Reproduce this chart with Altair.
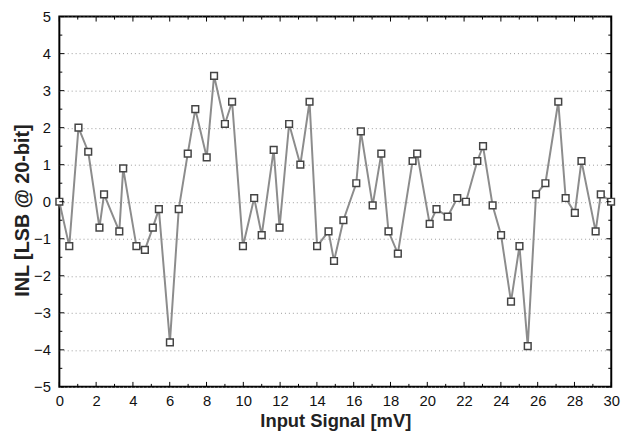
import altair as alt
import pandas as pd

# Data
x_vals = [0.00, 0.54, 1.04, 1.57, 2.18, 2.43, 3.26, 3.47, 4.19, 4.65,
          5.08, 5.41, 6.01, 6.49, 6.98, 7.39, 8.01, 8.41, 9.00, 9.39,
          9.98, 10.59, 11.00, 11.65, 11.97, 12.49, 13.10, 13.60, 14.01, 14.63,
          14.93, 15.44, 16.14, 16.39, 17.03, 17.50, 17.89, 18.40, 19.20, 19.45,
          20.13, 20.50, 21.11, 21.63, 22.10, 22.72, 23.03, 23.55, 24.01, 24.55,
          25.01, 25.46, 25.91, 26.42, 27.12, 27.52, 28.02, 28.38, 29.15, 29.43,
          29.99]
inl_vals = [0.0, -1.2, 2.0, 1.35, -0.7, 0.2, -0.8, 0.9, -1.2, -1.3,
            -0.7, -0.2, -3.8, -0.2, 1.3, 2.5, 1.2, 3.4, 2.1, 2.7,
            -1.2, 0.1, -0.9, 1.4, -0.7, 2.1, 1.0, 2.7, -1.2, -0.8,
            -1.6, -0.5, 0.5, 1.9, -0.1, 1.3, -0.8, -1.4, 1.1, 1.3,
            -0.6, -0.2, -0.4, 0.1, 0.0, 1.1, 1.5, -0.1, -0.9, -2.7,
            -1.2, -3.9, 0.2, 0.5, 2.7, 0.1, -0.3, 1.1, -0.8, 0.2,
            0.0]

x_major = list(range(0, 31, 2))
x_minor = list(range(1, 30, 2))
y_major = list(range(-5, 6))
y_minor = [v + 0.5 for v in range(-5, 5)]

W, H = 559, 375
FONT = "Liberation Sans"

df = pd.DataFrame({"x": x_vals, "inl": inl_vals})

xs = alt.Scale(domain=[0, 30], nice=False, zero=False)
ys = alt.Scale(domain=[-5, 5], nice=False, zero=False)

x_axis = alt.Axis(values=x_major, ticks=False, domain=False, grid=False,
                  labelFontSize=15, labelFont=FONT, labelColor="#111",
                  labelPadding=7, labelFlush=False, labelOverlap=False,
                  title="Input Signal [mV]",
                  titleFont=FONT, titleFontSize=18.6, titleFontWeight="bold",
                  titleColor="#222", titleBaseline="middle",
                  titleX=W / 2, titleY=34, format="d")
y_axis = alt.Axis(values=y_major, ticks=False, domain=False, grid=True,
                  gridDash=[1, 3], gridColor="#9a9a9a", gridWidth=1,
                  labelFontSize=15, labelFont=FONT, labelColor="#111",
                  labelPadding=9, labelOverlap=False, labelFlush=False,
                  title="INL [LSB @ 20-bit]",
                  titleFont=FONT, titleFontSize=20, titleFontWeight="bold",
                  titleColor="#222", titleBaseline="middle",
                  titleX=-37, titleY=196, titleAngle=270, format="d")

base = alt.Chart(df)

line = base.mark_line(color="#8c8c8c", strokeWidth=2).encode(
    x=alt.X("x:Q", scale=xs, axis=x_axis),
    y=alt.Y("inl:Q", scale=ys, axis=y_axis),
)

pts = base.mark_point(shape="square", size=46, filled=False, fill="white",
                      fillOpacity=1, stroke="#444444", strokeWidth=1.5,
                      opacity=1).encode(
    x=alt.X("x:Q", scale=xs, axis=x_axis), y=alt.Y("inl:Q", scale=ys, axis=y_axis))


def xticks(vals, length):
    d = pd.DataFrame({"x": vals})
    top = alt.Chart(d).mark_rule(color="black", strokeWidth=1).encode(
        x=alt.X("x:Q", scale=xs, axis=x_axis), y=alt.value(0), y2=alt.value(length))
    bot = alt.Chart(d).mark_rule(color="black", strokeWidth=1).encode(
        x=alt.X("x:Q", scale=xs, axis=x_axis), y=alt.value(H), y2=alt.value(H - length))
    return [top, bot]


def yticks(vals, length):
    d = pd.DataFrame({"inl": vals})
    left = alt.Chart(d).mark_rule(color="black", strokeWidth=1).encode(
        y=alt.Y("inl:Q", scale=ys, axis=y_axis), x=alt.value(0), x2=alt.value(length))
    right = alt.Chart(d).mark_rule(color="black", strokeWidth=1).encode(
        y=alt.Y("inl:Q", scale=ys, axis=y_axis), x=alt.value(W), x2=alt.value(W - length))
    return [left, right]


layers = [line, pts] + xticks(x_major, 5) + xticks(x_minor, 3) + yticks(y_major, 5) + yticks(y_minor, 3)

chart = alt.layer(*layers).properties(
    width=W, height=H,
    autosize=alt.AutoSizeParams(type="none"),
    padding={"left": 52, "top": 6, "right": 21, "bottom": 42},
    background="white",
).configure_view(stroke="black", strokeWidth=2).configure_axis(labelOverlap=False)

chart.save("out.html", embed_options={"renderer": "svg", "actions": False})
